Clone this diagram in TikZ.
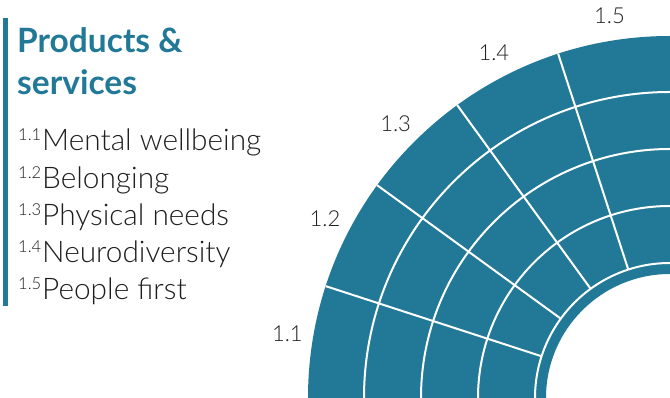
\documentclass[tikz,border=0pt]{standalone}
\usepackage{fontspec}
\setmainfont{Lato}
\newfontfamily\lightfont{Lato Light}
\definecolor{mainteal}{RGB}{33,121,151}
\definecolor{txtgray}{RGB}{30,30,30}
\tikzset{
  sepline/.style={white,line width=2pt},
  arclabel/.style={inner sep=0pt,text=txtgray,font=\lightfont\fontsize{22}{22}\selectfont},
  title/.style={inner sep=0pt,anchor=base west,text=mainteal,font=\bfseries\fontsize{33.5}{33.5}\selectfont},
  item/.style={inner sep=0pt,anchor=base west,text=txtgray,font=\lightfont\fontsize{29.8}{29.8}\selectfont},
  itemnum/.style={inner sep=0pt,anchor=base west,text=txtgray,font=\lightfont\fontsize{16.5}{16.5}\selectfont},
}
\begin{document}
\begin{tikzpicture}[x=1pt,y=1pt]
\useasboundingbox (0,0) rectangle (670,398);
\coordinate (c) at (670,0);
% annulus
\fill[mainteal] ([shift={(90:362pt)}]c) arc[start angle=90,end angle=180,radius=362pt]
  -- ([shift={(180:124pt)}]c) arc[start angle=180,end angle=90,radius=124pt] -- cycle;
\foreach \r in {135,192,249,306}{
  \draw[sepline] ([shift={(90:\r pt)}]c) arc[start angle=90,end angle=180,radius=\r pt];
}
\foreach \a in {108,126,144,162}{
  \draw[sepline] ([shift={(\a:135pt)}]c) -- ([shift={(\a:362pt)}]c);
}
% arc labels
\node[arclabel] (l11) at ([shift={(170.5:388pt)}]c) {1.1};
\node[arclabel] (l12) at ([shift={(152.5:389pt)}]c) {1.2};
\node[arclabel] (l13) at ([shift={(135:388pt)}]c) {1.3};
\node[arclabel] (l14) at ([shift={(117:388pt)}]c) {1.4};
\node[arclabel] (l15) at ([shift={(99:387pt)}]c) {1.5};
% left bar
\fill[mainteal] (3,92) rectangle (8,380);
% title
\node[title] (t1) at (17,345) {Products \&};
\node[title] (t2) at (17,303) {services};
% items
\node[itemnum] (n1) at (18,257) {1.1};
\node[item] (i1) at (42,247) {Mental wellbeing};
\node[itemnum] (n2) at (18,219) {1.2};
\node[item] (i2) at (42,209) {Belonging};
\node[itemnum] (n3) at (18,182) {1.3};
\node[item] (i3) at (42,172) {Physical needs};
\node[itemnum] (n4) at (18,145) {1.4};
\node[item] (i4) at (42,135) {Neurodiversity};
\node[itemnum] (n5) at (18,108) {1.5};
\node[item] (i5) at (42,98) {People first};
\end{tikzpicture}
\end{document}
